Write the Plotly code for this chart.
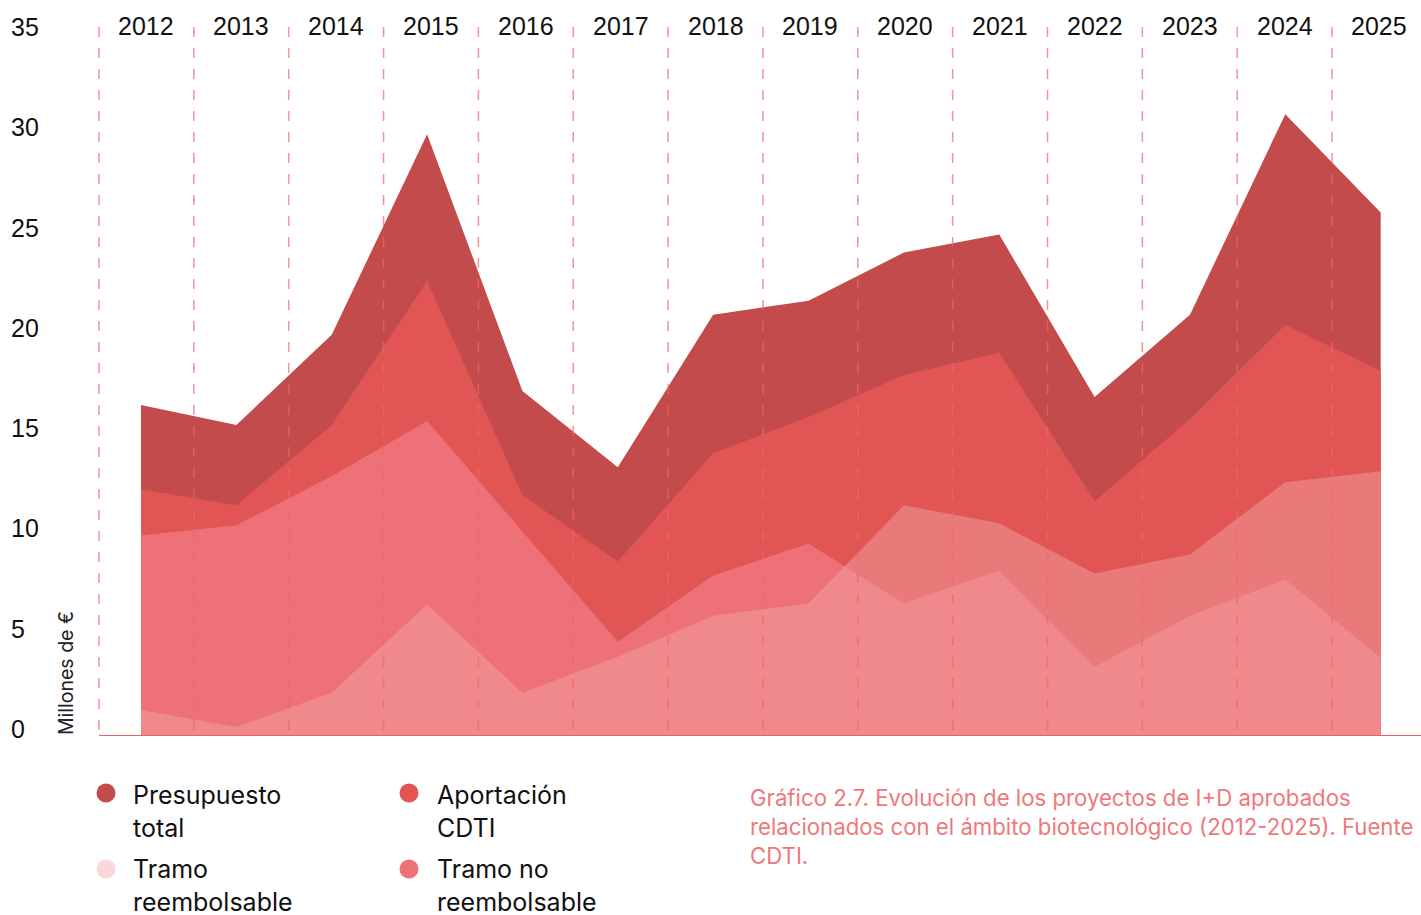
import plotly.graph_objects as go

years = [2012, 2013, 2014, 2015, 2016, 2017, 2018, 2019, 2020, 2021, 2022, 2023, 2024, 2025]
presupuesto_total = [16.5, 15.5, 20.0, 30.0, 17.2, 13.4, 21.0, 21.7, 24.1, 25.0, 16.9, 21.0, 31.0, 26.1]
aportacion_cdti = [12.3, 11.5, 15.5, 22.7, 12.0, 8.7, 14.1, 15.9, 18.0, 19.1, 11.7, 15.8, 20.5, 18.2]
tramo_no_reembolsable = [10.0, 10.5, 12.95, 15.7, 10.2, 4.7, 8.0, 9.6, 6.6, 8.25, 3.45, 6.0, 7.8, 3.9]
tramo_reembolsable = [1.3, 0.45, 2.15, 6.55, 2.15, 3.95, 6.0, 6.6, 11.5, 10.6, 8.1, 9.05, 12.65, 13.2]
y_ticks = [0, 5, 10, 15, 20, 25, 30, 35]

W, H = 1421, 915
PLOT_H = 736
PX_PER_UNIT = 20.06
X_SCALE = 95.36
X0 = 2012 - 141 / X_SCALE
X1 = X0 + W / X_SCALE
DASH_START = 99.0   # px of first separator
DASH_STEP = 94.85   # px between separators

C_TOTAL = "#c44b4b"
C_CDTI = "#e25555"
C_NOREEMB = "#ed7177"
C_REEMB = "rgba(244,167,167,0.45)"
C_REEMB_LEG = "#fad8d9"

fig = go.Figure()
series = [
    ("Presupuesto total", presupuesto_total, C_TOTAL),
    ("Aportación CDTI", aportacion_cdti, C_CDTI),
    ("Tramo no reembolsable", tramo_no_reembolsable, C_NOREEMB),
    ("Tramo reembolsable", tramo_reembolsable, C_REEMB),
]
for name, vals, col in series:
    fig.add_trace(go.Scatter(x=years, y=vals, name=name, mode="none",
                             fill="tozeroy", fillcolor=col, showlegend=False,
                             hoverinfo="x+y+name"))

def px(xp):
    return xp / W

def py(yp):
    return (PLOT_H - yp) / PLOT_H

shapes = []
top_val = (PLOT_H - 27) / PX_PER_UNIT
for i, yr in enumerate(years):
    xd = px(DASH_START + i * DASH_STEP)
    shapes.append(dict(type="line", xref="paper", yref="y", x0=xd, x1=xd,
                       y0=top_val, y1=0, layer="above",
                       line=dict(color="rgba(236,104,104,0.7)", width=1.5, dash="10px,11px")))
shapes.append(dict(type="line", xref="paper", yref="y", x0=px(99), x1=1, y0=0, y1=0,
                   layer="above", line=dict(color="#e86464", width=2)))

annotations = []
for t in y_ticks:
    annotations.append(dict(xref="paper", yref="y", x=px(9), y=t, yshift=7,
                            xanchor="left", yanchor="middle", showarrow=False,
                            text=str(t), font=dict(family="Liberation Sans", size=25, color="#111")))
for i, yr in enumerate(years):
    annotations.append(dict(xref="paper", yref="paper", x=px(DASH_START + (i + 0.5) * DASH_STEP),
                            y=py(25.5), xanchor="center", yanchor="middle", showarrow=False,
                            text=str(yr), font=dict(family="Liberation Sans", size=25, color="#111")))

annotations.append(dict(xref="paper", yref="paper", x=px(66), y=py(673), textangle=-90,
                        xanchor="center", yanchor="middle", showarrow=False,
                        text="Millones de €", font=dict(family="Inter", size=19.5, color="#222")))

legend_items = [
    ("Presupuesto<br>total", C_TOTAL, 106, 793, 131, 812),
    ("Aportación<br>CDTI", C_CDTI, 409, 793, 435, 812),
    ("Tramo<br>reembolsable", C_REEMB_LEG, 106, 869, 131, 885),
    ("Tramo no<br>reembolsable", C_NOREEMB, 409, 869, 435, 885),
]
R = 9.5
for text, col, cx, cy, tx, ty in legend_items:
    shapes.append(dict(type="circle", xref="paper", yref="paper",
                       x0=px(cx - R), x1=px(cx + R), y0=py(cy + R), y1=py(cy - R),
                       fillcolor=col, line=dict(width=0)))
    annotations.append(dict(xref="paper", yref="paper", x=px(tx), y=py(ty),
                            xanchor="left", yanchor="middle", align="left", showarrow=False,
                            text=text, font=dict(family="Inter", size=25, color="#111")))

annotations.append(dict(xref="paper", yref="paper", x=px(748), y=py(826),
                        xanchor="left", yanchor="middle", align="left", showarrow=False,
                        text="Gráfico 2.7. Evolución de los proyectos de I+D aprobados<br>"
                             "relacionados con el ámbito biotecnológico (2012-2025). Fuente<br>CDTI.",
                        font=dict(family="Inter", size=22.2, color="#ef787c")))

fig.update_layout(
    width=W, height=H,
    margin=dict(l=0, r=0, t=0, b=H - PLOT_H, pad=0),
    paper_bgcolor="white", plot_bgcolor="white",
    xaxis=dict(range=[X0, X1], visible=False, fixedrange=True),
    yaxis=dict(range=[0, PLOT_H / PX_PER_UNIT], visible=False, fixedrange=True),
    shapes=shapes, annotations=annotations,
    showlegend=False,
)

fig.write_html("out.html", config={"displayModeBar": False},
               post_script="document.body.style.margin='0';")
